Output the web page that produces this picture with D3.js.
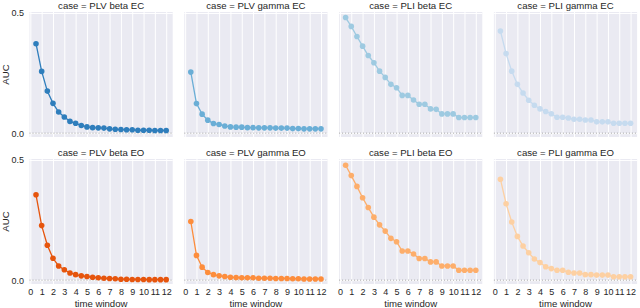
<!DOCTYPE html>
<html>
<head>
<meta charset="utf-8">
<script src="https://cdn.jsdelivr.net/npm/d3@7"></script>
<style>
  html, body { margin: 0; padding: 0; background: #fff; }
  svg { display: block; font-family: "Liberation Sans", Arial, sans-serif; }
</style>
</head>
<body>
<svg id="chart" width="640" height="308"></svg>
<script>
// ---- data ----
const timeWindows = [0.5,1,1.5,2,2.5,3,3.5,4,4.5,5,5.5,6,6.5,7,7.5,8,8.5,9,9.5,10,10.5,11,11.5,12];
const xTicks = [0,1,2,3,4,5,6,7,8,9,10,11,12];
const yTicks = [0.0, 0.5];
const cases = ["PLV beta EC","PLV gamma EC","PLI beta EC","PLI gamma EC",
               "PLV beta EO","PLV gamma EO","PLI beta EO","PLI gamma EO"];
const plvBetaEC  = [0.372,0.257,0.175,0.124,0.088,0.067,0.049,0.041,0.032,0.026,0.023,0.022,0.021,0.018,0.016,0.015,0.014,0.014,0.012,0.012,0.012,0.011,0.011,0.011];
const plvGammaEC = [0.254,0.123,0.079,0.054,0.040,0.036,0.030,0.026,0.025,0.025,0.023,0.023,0.022,0.022,0.022,0.021,0.021,0.021,0.019,0.019,0.018,0.018,0.018,0.018];
const pliBetaEC  = [0.481,0.444,0.402,0.362,0.323,0.293,0.258,0.232,0.203,0.189,0.157,0.157,0.138,0.120,0.120,0.101,0.099,0.080,0.080,0.080,0.065,0.065,0.065,0.065];
const pliGammaEC = [0.425,0.331,0.258,0.203,0.167,0.137,0.116,0.101,0.090,0.081,0.066,0.066,0.063,0.058,0.058,0.055,0.055,0.047,0.047,0.047,0.041,0.041,0.041,0.041];
const plvBetaEO  = [0.355,0.227,0.145,0.091,0.059,0.043,0.030,0.023,0.018,0.015,0.012,0.010,0.008,0.007,0.006,0.004,0.004,0.003,0.003,0.003,0.002,0.002,0.002,0.002];
const plvGammaEO = [0.244,0.103,0.054,0.032,0.023,0.018,0.015,0.012,0.011,0.010,0.010,0.010,0.008,0.008,0.008,0.007,0.007,0.007,0.006,0.006,0.005,0.005,0.005,0.005];
const pliBetaEO  = [0.478,0.435,0.390,0.343,0.302,0.262,0.230,0.204,0.174,0.160,0.121,0.121,0.109,0.090,0.090,0.076,0.076,0.059,0.059,0.059,0.041,0.041,0.041,0.041];
const pliGammaEO = [0.420,0.318,0.242,0.182,0.142,0.114,0.088,0.073,0.056,0.048,0.041,0.041,0.033,0.030,0.030,0.023,0.023,0.021,0.021,0.021,0.014,0.014,0.014,0.014];
const seriesValues = [plvBetaEC, plvGammaEC, pliBetaEC, pliGammaEC, plvBetaEO, plvGammaEO, pliBetaEO, pliGammaEO];
const colors = ["#2f7ebc","#6aaed6","#9ecae1","#c6dbef","#e6550d","#fd8d3c","#fdae6b","#fdd0a2"];

// ---- layout ----
const svg = d3.select("#chart");
const colX = [29.5, 184.3, 339.1, 493.9];
const rowY = [12, 159];
const pw = 143.2, ph = 125;
const textColor = "#262626";

cases.forEach((name, i) => {
  const col = i % 4, row = Math.floor(i / 4);
  const x = d3.scaleLinear().domain([-0.075, 12.575]).range([0, pw]);
  const y = d3.scaleLinear().domain([-0.016, 0.504]).range([ph, 0]);
  const g = svg.append("g").attr("transform", `translate(${colX[col]},${rowY[row]})`);

  g.append("rect").attr("width", pw).attr("height", ph).attr("fill", "#eaeaf2");

  // gridlines
  const gx = g.append("g").attr("transform", `translate(0,${ph})`)
    .call(d3.axisBottom(x).tickValues(xTicks).tickSize(-ph).tickFormat(""));
  gx.select(".domain").remove();
  gx.selectAll("line").attr("stroke", "#fff").attr("stroke-width", 1);
  const gy = g.append("g")
    .call(d3.axisLeft(y).tickValues(yTicks).tickSize(-pw).tickFormat(""));
  gy.select(".domain").remove();
  gy.selectAll("line").attr("stroke", "#fff").attr("stroke-width", 1);

  // zero reference line
  g.append("line").attr("x1", 0).attr("x2", pw)
    .attr("y1", y(0)).attr("y2", y(0))
    .attr("stroke", "#a0a0a0").attr("stroke-width", 1).attr("stroke-dasharray", "1,2");

  const vals = seriesValues[i];
  const pts = timeWindows.map((t, k) => [t, vals[k]]);
  g.append("path").datum(pts)
    .attr("fill", "none").attr("stroke", colors[i]).attr("stroke-width", 1.3)
    .attr("d", d3.line().x(d => x(d[0])).y(d => y(d[1])));
  g.selectAll("circle.pt").data(pts).enter().append("circle")
    .attr("class", "pt")
    .attr("cx", d => x(d[0])).attr("cy", d => y(d[1])).attr("r", 2.8)
    .attr("fill", colors[i]);

  // title
  g.append("text").attr("x", pw / 2).attr("y", -3.5)
    .attr("text-anchor", "middle").attr("font-size", "9.6px").attr("fill", textColor)
    .text("case = " + name);

  // y axis labels on first column
  if (col === 0) {
    const ay = g.append("g")
      .call(d3.axisLeft(y).tickValues(yTicks).tickSize(0).tickPadding(5.5).tickFormat(d3.format(".1f")));
    ay.select(".domain").remove();
    ay.selectAll("text").attr("font-size", "9px").attr("fill", textColor).attr("font-family", null);
    g.append("text")
      .attr("transform", `translate(${-21},${ph / 2}) rotate(-90)`)
      .attr("text-anchor", "middle").attr("font-size", "9.6px").attr("fill", textColor)
      .text("AUC");
  }
  // x axis labels on bottom row
  if (row === 1) {
    const ax = g.append("g").attr("transform", `translate(0,${ph})`)
      .call(d3.axisBottom(x).tickValues(xTicks).tickSize(0).tickPadding(5).tickFormat(d3.format("d")));
    ax.select(".domain").remove();
    ax.selectAll("text").attr("font-size", "9px").attr("fill", textColor).attr("font-family", null);
    g.append("text").attr("x", pw / 2).attr("y", ph + 22.5)
      .attr("text-anchor", "middle").attr("font-size", "9.6px").attr("fill", textColor)
      .text("time window");
  }
});
</script>
</body>
</html>
